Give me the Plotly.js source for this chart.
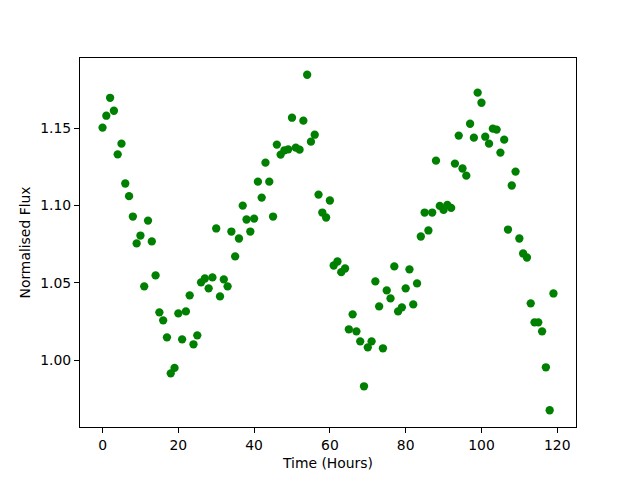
<!DOCTYPE html>
<html>
<head>
<meta charset="utf-8">
<script src="https://cdn.plot.ly/plotly-3.0.1.min.js"></script>
<style>html,body{margin:0;padding:0;background:#fff;}#chart{width:640px;height:480px;}</style>
</head>
<body>
<div id="chart"></div>
<script>
// Time in hours
var hours = [];
for (var i = 0; i < 120; i++) hours.push(i);

// Normalised flux
var flux = [
  1.1505, 1.1582, 1.1698, 1.1614, 1.1332, 1.1401, 1.1143, 1.1061, 1.0929, 1.0755,
  1.0806, 1.0477, 1.0903, 1.0768, 1.0548, 1.0309, 1.0257, 1.0147, 0.9914, 0.9949,
  1.0302, 1.0134, 1.0315, 1.0419, 1.0102, 1.0160, 1.0503, 1.0528, 1.0464, 1.0535,
  1.0852, 1.0412, 1.0522, 1.0477, 1.0832, 1.0671, 1.0787, 1.1000, 1.0910, 1.0832,
  1.0916, 1.1155, 1.1052, 1.1278, 1.1155, 1.0929, 1.1395, 1.1330, 1.1358, 1.1364,
  1.1569, 1.1375, 1.1362, 1.1550, 1.1847, 1.1414, 1.1459, 1.1071, 1.0955, 1.0923,
  1.1033, 1.0612, 1.0638, 1.0569, 1.0593, 1.0199, 1.0296, 1.0186, 1.0121, 0.9830,
  1.0082, 1.0121, 1.0509, 1.0347, 1.0076, 1.0451, 1.0399, 1.0606, 1.0315, 1.0341,
  1.0464, 1.0587, 1.0360, 1.0496, 1.0800, 1.0955, 1.0839, 1.0955, 1.1291, 1.0998,
  1.0972, 1.1004, 1.0985, 1.1272, 1.1453, 1.1240, 1.1194, 1.1530, 1.1440, 1.1731,
  1.1666, 1.1446, 1.1401, 1.1498, 1.1492, 1.1343, 1.1427, 1.0845, 1.1130, 1.1220,
  1.0787, 1.0690, 1.0664, 1.0367, 1.0244, 1.0244, 1.0186, 0.9953, 0.9675, 1.0431
];

var xTicks = [0, 20, 40, 60, 80, 100, 120];
var yTicks = [1.00, 1.05, 1.10, 1.15];
var yTickText = ['1.00', '1.05', '1.10', '1.15'];

function padRange(arr) {
  var mn = Math.min.apply(null, arr), mx = Math.max.apply(null, arr);
  var d = (mx - mn) * 0.05;
  return [mn - d, mx + d];
}

var trace = {
  x: hours,
  y: flux,
  mode: 'markers',
  type: 'scatter',
  marker: {color: '#008000', size: 8.3, line: {width: 0}},
  hoverinfo: 'none'
};

var axisCommon = {
  showline: true,
  mirror: true,
  linecolor: '#000',
  linewidth: 1,
  showgrid: false,
  zeroline: false,
  ticks: 'outside',
  ticklen: 5,
  tickwidth: 1,
  tickcolor: '#000',
  tickfont: {family: 'DejaVu Sans', size: 13.9, color: '#000'}
};

var layout = {
  width: 640,
  height: 480,
  margin: {l: 80, r: 64, t: 57.6, b: 52.8, pad: 0},
  paper_bgcolor: '#fff',
  plot_bgcolor: '#fff',
  showlegend: false,
  font: {family: 'DejaVu Sans', size: 13.9, color: '#000'},
  xaxis: Object.assign({}, axisCommon, {
    range: padRange(hours),
    tickvals: xTicks,
    ticktext: xTicks.map(String),
    title: {text: 'Time (Hours)', font: {family: 'DejaVu Sans', size: 13.9, color: '#000'}, standoff: 6}
  }),
  yaxis: Object.assign({}, axisCommon, {
    range: padRange(flux),
    tickvals: yTicks,
    ticktext: yTickText,
    title: {text: 'Normalised Flux', font: {family: 'DejaVu Sans', size: 13.9, color: '#000'}, standoff: 6}
  })
};

Plotly.newPlot('chart', [trace], layout, {staticPlot: true, displayModeBar: false});
</script>
</body>
</html>
